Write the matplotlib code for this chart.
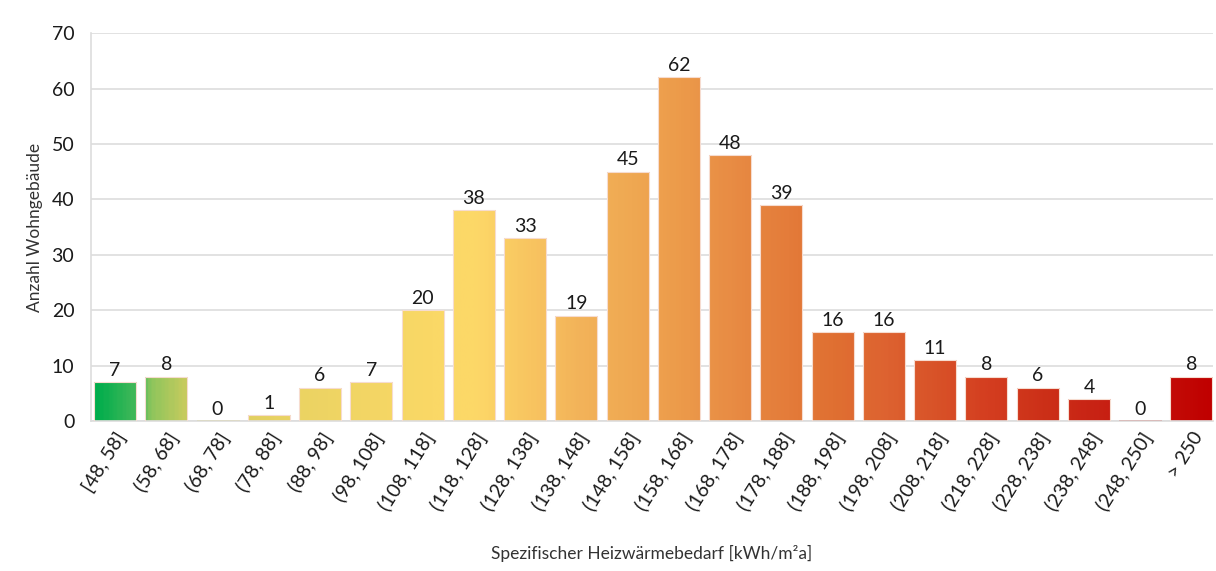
import numpy as np
import matplotlib
matplotlib.use("Agg")
import matplotlib.pyplot as plt
from matplotlib.colors import LinearSegmentedColormap

plt.rcParams['font.family'] = ['Lato', 'DejaVu Sans']

# Klassen und Anzahl der Wohngebäude
kategorien = ["[48, 58]", "(58, 68]", "(68, 78]", "(78, 88]", "(88, 98]", "(98, 108]",
              "(108, 118]", "(118, 128]", "(128, 138]", "(138, 148]", "(148, 158]",
              "(158, 168]", "(168, 178]", "(178, 188]", "(188, 198]", "(198, 208]",
              "(208, 218]", "(218, 228]", "(228, 238]", "(238, 248]", "(248, 250]", "> 250"]
anzahl = [7, 8, 0, 1, 6, 7, 20, 38, 33, 19, 45, 62, 48, 39, 16, 16, 11, 8, 6, 4, 0, 8]

# Farbverlauf grün -> gelb -> orange -> rot
verlauf = LinearSegmentedColormap.from_list("heiz", [
    (0.00, "#00ad4c"),
    (0.040, "#50ba5c"),
    (0.048, "#8cc55c"),
    (0.085, "#d2cc5e"),
    (0.16, "#e8d262"),
    (0.30, "#fad866"),
    (0.34, "#fdd868"),
    (0.39, "#f8c460"),
    (0.43, "#f3b45a"),
    (0.48, "#efa852"),
    (0.525, "#ec9a4a"),
    (0.57, "#e88c44"),
    (0.62, "#e47c3a"),
    (0.66, "#e07032"),
    (0.71, "#dd6230"),
    (0.755, "#d85228"),
    (0.80, "#d43e20"),
    (0.85, "#cc3018"),
    (0.90, "#c82214"),
    (1.00, "#c00000"),
])

fig = plt.figure(figsize=(12.16, 5.71), dpi=100)
ax = fig.add_axes([0.0748, 0.2627, 0.9227, 0.6793])

x = np.arange(len(kategorien))
breite = 0.82
bars = ax.bar(x, anzahl, width=breite, color="none", edgecolor="#f6dcd0", linewidth=0.8, zorder=3)

x0 = x[0] - breite / 2
x1 = x[-1] + breite / 2
grad = np.linspace(0, 1, 600).reshape(1, -1)
for b in bars:
    h = max(b.get_height(), 0.15)
    im = ax.imshow(grad, cmap=verlauf, aspect="auto", extent=[x0, x1, 0, 70],
                   origin="lower", zorder=2, interpolation="bilinear")
    rect = plt.Rectangle((b.get_x(), 0), b.get_width(), h, transform=ax.transData)
    im.set_clip_path(rect)

for xi, v in zip(x, anzahl):
    ax.text(xi, v + 0.6, str(v), ha="center", va="bottom", fontsize=14, color="#1a1a1a")

ax.set_xlim(-0.47, len(kategorien) - 0.58)
ax.set_ylim(0, 70)
ax.set_yticks(range(0, 71, 10))
ax.yaxis.grid(True, color="#dddddd", linewidth=1.2, zorder=0)
ax.set_axisbelow(True)

for s in ["top", "right"]:
    ax.spines[s].set_visible(False)
ax.spines["left"].set_color("#dddddd")
ax.spines["bottom"].set_color("#dddddd")
ax.spines["left"].set_linewidth(1.2)
ax.spines["bottom"].set_linewidth(1.2)

ax.tick_params(axis="both", length=0, labelsize=14, colors="#1a1a1a")
ax.tick_params(axis="y", pad=12)
ax.tick_params(axis="x", pad=6)
ax.set_xticks(x)
ax.set_xticklabels(kategorien, rotation=58, ha="right", rotation_mode="anchor")

ax.set_ylabel("Anzahl Wohngebäude", fontsize=12.5, color="#333333", labelpad=6)
ax.set_xlabel("Spezifischer Heizwärmebedarf [kWh/m²a]", fontsize=12.5, color="#333333", labelpad=22)

fig.savefig("out.png", dpi=100, facecolor="white")
